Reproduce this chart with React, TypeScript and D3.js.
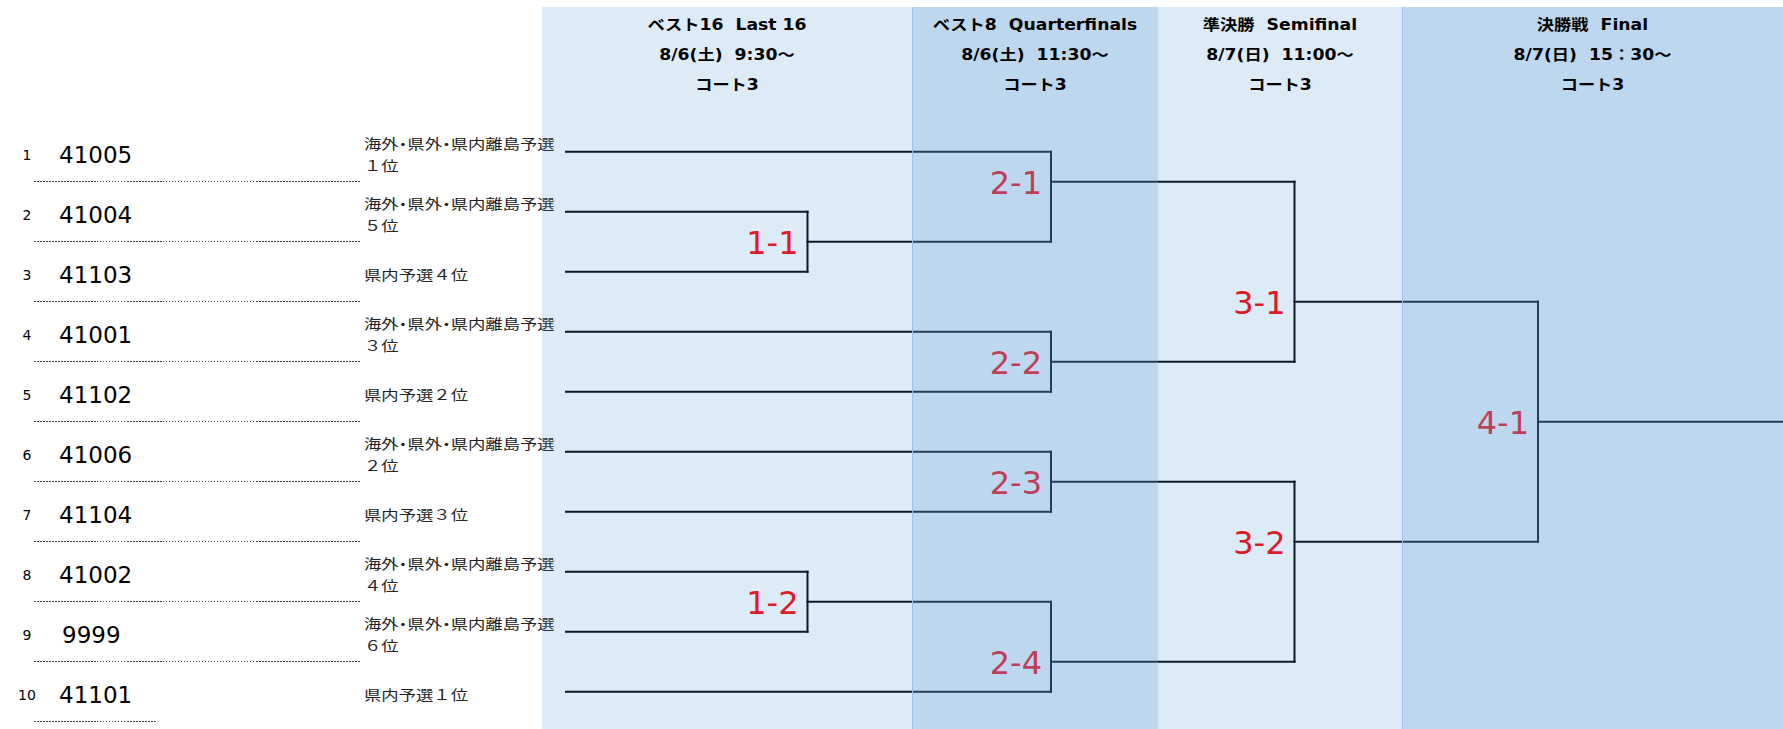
import React from 'react';
import * as d3 from 'd3';

// ---- data ----
const slotNumbers = [1, 2, 3, 4, 5, 6, 7, 8, 9, 10];
const teamCodes = ['41005', '41004', '41103', '41001', '41102', '41006', '41104', '41002', '9999', '41101'];
const qualifiers: string[][] = [
  ['海外・県外・県内離島予選', '１位'],
  ['海外・県外・県内離島予選', '５位'],
  ['県内予選４位'],
  ['海外・県外・県内離島予選', '３位'],
  ['県内予選２位'],
  ['海外・県外・県内離島予選', '２位'],
  ['県内予選３位'],
  ['海外・県外・県内離島予選', '４位'],
  ['海外・県外・県内離島予選', '６位'],
  ['県内予選１位'],
];

const roundTitles = ['ベスト16  Last 16', 'ベスト8  Quarterfinals', '準決勝  Semifinal', '決勝戦  Final'];
const roundTimes = ['8/6(土)  9:30〜', '8/6(土)  11:30〜', '8/7(日)  11:00〜', '8/7(日)  15：30〜'];
const roundCourts = ['コート3', 'コート3', 'コート3', 'コート3'];

// matches: sources are a team slot (number) or a match id (string); row = half-row of the winner line
const matchIds = ['1-1', '1-2', '2-1', '2-2', '2-3', '2-4', '3-1', '3-2', '4-1'];
const matchRounds = [1, 1, 2, 2, 2, 2, 3, 3, 4];
const matchTop: (number | string)[] = [2, 8, 1, 4, 6, '1-2', '2-1', '2-3', '3-1'];
const matchBottom: (number | string)[] = [3, 9, '1-1', 5, 7, 10, '2-2', '2-4', '3-2'];
const matchRow = [3, 15, 1, 7, 11, 17, 5, 13, 9];

const W = 1783, H = 729;
const bandEdges = [542, 912, 1158, 1402, 1783];
const bandTop = 7;
const lineStartX = 566;

const CJK = '"Noto Sans CJK JP", sans-serif';
const LATIN = '"DejaVu Sans", "Noto Sans CJK JP", sans-serif';

const App: React.FC = () => {
  const y = d3.scaleLinear().domain([0, 19]).range([151.7, 721.7]);
  const xRound = d3.scaleLinear().domain([1, 4]).range([807.5, 1538]);

  const matches = matchIds.map((id, i) => ({
    id, round: matchRounds[i], top: matchTop[i], bottom: matchBottom[i], row: matchRow[i],
  }));
  const byId = new Map(matches.map(m => [m.id, m]));

  const rowOf = (s: number | string) => typeof s === 'number' ? (s - 1) * 2 : byId.get(s)!.row;
  const startOf = (s: number | string) => typeof s === 'number' ? lineStartX : xRound(byId.get(s)!.round);

  const paths: string[] = [];
  matches.forEach(m => {
    const x = xRound(m.round);
    [m.top, m.bottom].forEach(s => {
      const p = d3.path();
      p.moveTo(startOf(s), y(rowOf(s)));
      p.lineTo(x, y(rowOf(s)));
      paths.push(p.toString());
    });
    const v = d3.path();
    v.moveTo(x, y(rowOf(m.top)));
    v.lineTo(x, y(rowOf(m.bottom)));
    paths.push(v.toString());
  });
  const finalMatch = byId.get('4-1')!;
  const fp = d3.path();
  fp.moveTo(xRound(finalMatch.round), y(finalMatch.row));
  fp.lineTo(W, y(finalMatch.row));
  paths.push(fp.toString());

  const bands = d3.pairs(bandEdges);

  return (
    <svg width={W} height={H} style={{ position: 'absolute', left: 0, top: 0, background: '#fff' }}>
      {/* left side: slot numbers, team codes, qualifier notes */}
      {slotNumbers.map((n, i) => {
        const ry = y(i * 2);
        const q = qualifiers[i];
        return (
          <g key={n}>
            <text x={27} y={ry + 8} textAnchor="middle" fontFamily={LATIN} fontSize={14} fill="#000">{n}</text>
            <text x={teamCodes[i].length < 5 ? 62 : 59} y={ry + 11} fontFamily={LATIN} fontSize={23} fill="#000">{teamCodes[i]}</text>
            {q.length === 2 ? (
              <>
                <text transform={`translate(364,${ry - 3}) scale(1.24,1)`} fontFamily={CJK} fontSize={14} fill="#222"
                  style={{ fontFeatureSettings: '"palt"' }}>{q[0]}</text>
                <text transform={`translate(364,${ry + 19}) scale(1.24,1)`} fontFamily={CJK} fontSize={14} fill="#222">{q[1]}</text>
              </>
            ) : (
              <text transform={`translate(364,${ry + 8}) scale(1.24,1)`} fontFamily={CJK} fontSize={14} fill="#222">{q[0]}</text>
            )}
            <line x1={34} x2={i === slotNumbers.length - 1 ? 157 : 360} y1={y(i * 2 + 1)} y2={y(i * 2 + 1)}
              stroke="#444" strokeWidth={1} strokeDasharray="1.5,1.5" shapeRendering="crispEdges" />
          </g>
        );
      })}

      {/* bracket lines */}
      <g fill="none" stroke="#000" strokeWidth={2} strokeLinecap="square">
        {paths.map((d, i) => <path key={i} d={d} />)}
      </g>

      {/* match numbers */}
      {matches.map(m => (
        <text key={m.id} x={xRound(m.round) - 9} y={y(m.row) + 12} textAnchor="end"
          fontFamily={LATIN} fontSize={32} fill="#ff0000">{m.id}</text>
      ))}

      {/* round columns, tinted over the bracket */}
      {bands.map(([x0, x1], i) => (
        <rect key={i} x={x0} y={bandTop} width={x1 - x0} height={H - bandTop}
          fill={i % 2 === 0 ? 'rgb(66,144,210)' : 'rgb(90,155,212)'}
          fillOpacity={i % 2 === 0 ? 0.18 : 0.4} />
      ))}
      {bands.map(([x0], i) => i % 2 === 1 ? (
        <line key={i} x1={x0 + 0.5} x2={x0 + 0.5} y1={bandTop} y2={H} stroke="#9dc3e6" strokeWidth={1} />
      ) : null)}

      {/* round headers */}
      {bands.map(([x0, x1], i) => {
        const cx = (x0 + x1) / 2;
        return (
          <g key={i} fontFamily={LATIN} fontSize={15} fontWeight="bold" fill="#000" textAnchor="middle">
            <text xmlSpace="preserve" transform={`translate(${cx},30) scale(1.15,1)`}>{roundTitles[i]}</text>
            <text xmlSpace="preserve" transform={`translate(${cx},60) scale(1.15,1)`}>{roundTimes[i]}</text>
            <text xmlSpace="preserve" transform={`translate(${cx},90) scale(1.15,1)`}>{roundCourts[i]}</text>
          </g>
        );
      })}
    </svg>
  );
};

export default App;
